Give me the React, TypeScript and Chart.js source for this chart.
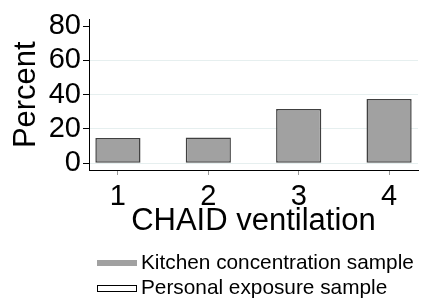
import React, { useEffect, useRef } from 'react';
import { Chart, registerables } from 'chart.js';

Chart.register(...registerables);

const categories = [1, 2, 3, 4];
const kitchenValues = [14.7, 15.0, 31.6, 37.5];
const personalValues: (number | null)[] = [null, null, null, null];
const seriesLabels = ['Kitchen concentration sample', 'Personal exposure sample'];
const yTicks = [0, 20, 40, 60, 80];
const xTitle = 'CHAID ventilation';
const yTitle = 'Percent';

const FONT = '"Liberation Sans", Arial, Helvetica, sans-serif';

const legendPlugin = {
  id: 'customLegend',
  afterDraw(chart: any) {
    const ctx = chart.ctx as CanvasRenderingContext2D;
    const left = chart.chartArea.left + 8;
    ctx.save();
    ctx.font = `20.8px ${FONT}`;
    ctx.textBaseline = 'middle';
    ctx.textAlign = 'left';
    chart.data.datasets.forEach((ds: any, i: number) => {
      const y = chart.chartArea.bottom + 93 + i * 25;
      ctx.fillStyle = ds.legendFill;
      ctx.fillRect(left, y - 3, 40, 6);
      if (ds.legendStroke) {
        ctx.strokeStyle = ds.legendStroke;
        ctx.lineWidth = 1;
        ctx.strokeRect(left + 0.5, y - 2.5, 39, 6);
      }
      ctx.fillStyle = '#000';
      ctx.fillText(ds.label, left + 44, y);
    });
    ctx.restore();
  },
};

export default function App() {
  const ref = useRef<HTMLCanvasElement>(null);
  useEffect(() => {
    if (!ref.current) return;
    const chart = new Chart(ref.current, {
      type: 'bar',
      data: {
        datasets: [
          {
            label: seriesLabels[0],
            data: categories.map((c, i) => ({ x: c, y: kitchenValues[i] })),
            backgroundColor: '#a1a1a1',
            borderColor: '#404040',
            borderWidth: 1.5,
            borderSkipped: false,
            grouped: false,
            barPercentage: 0.5,
            categoryPercentage: 1,
            legendFill: '#a1a1a1',
          } as any,
          {
            label: seriesLabels[1],
            data: categories.map((c, i) => ({ x: c, y: personalValues[i] })),
            backgroundColor: '#ffffff',
            borderColor: '#000000',
            borderWidth: 1,
            borderSkipped: false,
            grouped: false,
            barPercentage: 0.5,
            categoryPercentage: 1,
            legendFill: '#ffffff',
            legendStroke: '#000000',
          } as any,
        ],
      },
      options: {
        responsive: false,
        animation: false,
        layout: { padding: { top: 16, right: 8, bottom: 59.5, left: 0 } },
        plugins: {
          legend: { display: false },
          tooltip: { enabled: false },
        },
        scales: {
          x: {
            type: 'linear',
            offset: false,
            min: 0.68,
            max: 4.32,
            afterBuildTicks: (scale: any) => {
              scale.ticks = categories.map((v) => ({ value: v }));
            },
            afterFit: (scale: any) => {
              scale.height = 70.5;
            },
            border: { color: '#000', width: 1 },
            grid: { offset: false, drawOnChartArea: false, tickColor: '#999', tickLength: 5 },
            ticks: {
              color: '#000',
              font: { family: FONT, size: 29 },
              padding: 5,
              maxRotation: 0,
              autoSkip: false,
              callback: (v: any) => String(v),
            },
            title: {
              display: true,
              text: xTitle,
              color: '#000',
              font: { family: FONT, size: 31 },
              padding: { top: 0, bottom: 0 },
            },
          },
          y: {
            min: -4,
            max: 84,
            afterBuildTicks: (scale: any) => {
              scale.ticks = yTicks.map((v) => ({ value: v }));
            },
            afterFit: (scale: any) => {
              scale.width = 89;
            },
            border: { color: '#000', width: 1 },
            grid: {
              color: (c: any) => (c.tick && c.tick.value === 80 ? 'rgba(0,0,0,0)' : '#e6efef'),
              tickColor: '#000',
              tickLength: 6,
            },
            ticks: {
              color: '#000',
              font: { family: FONT, size: 29 },
              padding: 2,
              autoSkip: false,
            },
            title: {
              display: true,
              text: yTitle,
              color: '#000',
              font: { family: FONT, size: 31 },
              padding: { top: 8, bottom: 0 },
            },
          },
        },
      } as any,
      plugins: [legendPlugin],
    });
    return () => chart.destroy();
  }, []);
  return (
    <div style={{ position: 'fixed', left: 0, top: 0, width: 426, height: 300, background: '#fff' }}>
      <canvas ref={ref} width={426} height={300} style={{ display: 'block' }} />
    </div>
  );
}
